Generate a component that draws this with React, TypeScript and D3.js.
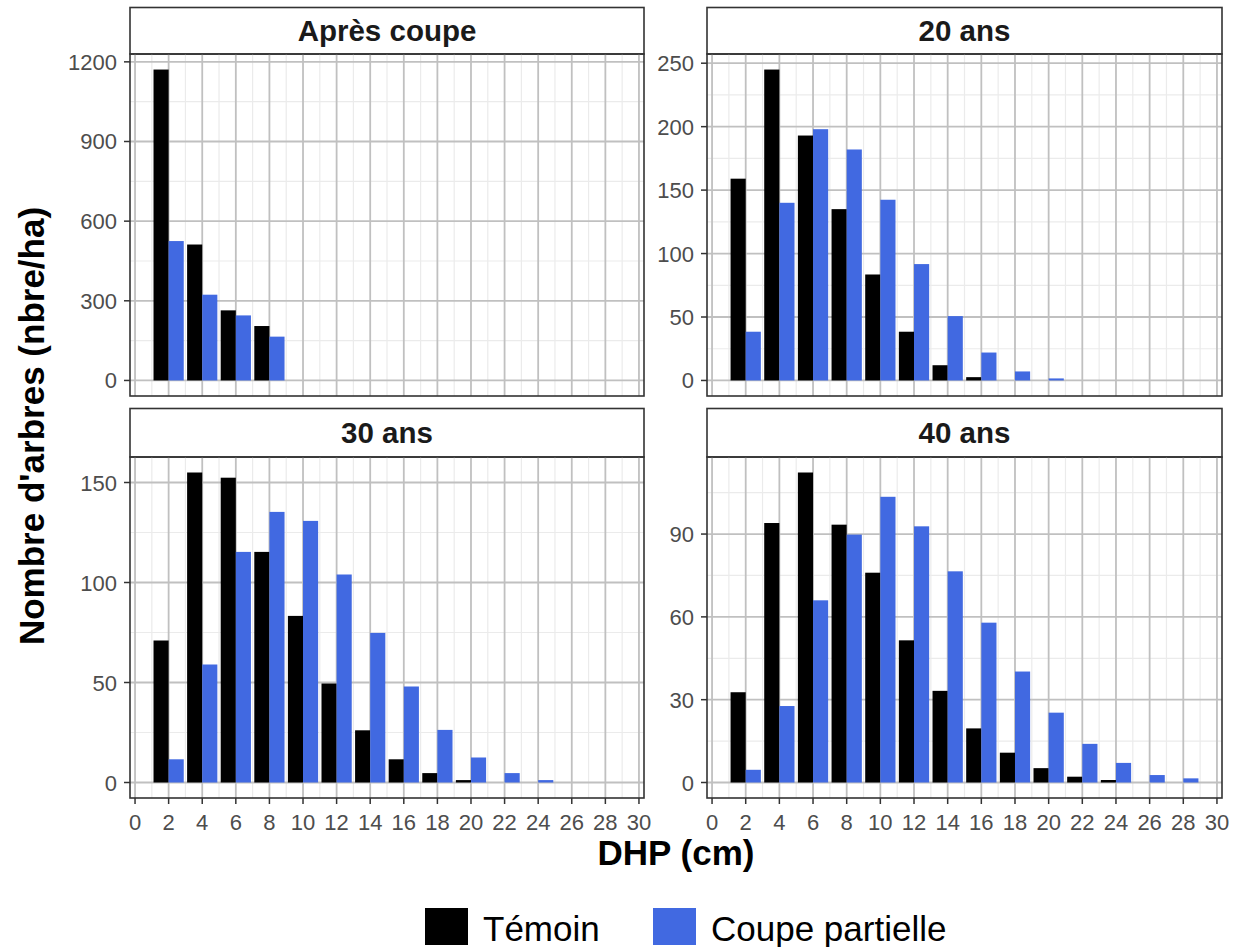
import React from "react";
import * as d3 from "d3";

const DHP = [2, 4, 6, 8, 10, 12, 14, 16, 18, 20, 22, 24, 26, 28];
const SERIES = ["Témoin", "Coupe partielle"];
const COLORS = ["#000000", "#4169E1"];
const PANEL_TITLES = ["Après coupe", "20 ans", "30 ans", "40 ans"];

const APRES_TEMOIN = [1171, 512, 264, 205, 0, 0, 0, 0, 0, 0, 0, 0, 0, 0];
const APRES_COUPE = [525, 323, 245, 165, 0, 0, 0, 0, 0, 0, 0, 0, 0, 0];
const AN20_TEMOIN = [159, 245, 193, 135, 83.5, 38.4, 12, 2.6, 0, 0, 0, 0, 0, 0];
const AN20_COUPE = [38.4, 140, 198, 182, 142.4, 91.7, 50.7, 22, 7.1, 1.6, 0, 0, 0, 0];
const AN30_TEMOIN = [71, 155, 152.4, 115.3, 83.3, 49.5, 26.1, 11.6, 4.7, 1.2, 0, 0, 0, 0];
const AN30_COUPE = [11.6, 59, 115.3, 135.3, 130.8, 104, 74.8, 48, 26.3, 12.5, 4.7, 1.2, 0, 0];
const AN40_TEMOIN = [32.7, 94, 112.3, 93.4, 76, 51.5, 33.2, 19.6, 10.8, 5.2, 2.1, 0.9, 0, 0];
const AN40_COUPE = [4.6, 27.7, 66, 89.8, 103.5, 92.8, 76.5, 57.9, 40.2, 25.3, 14, 7.1, 2.7, 1.5];

const Y_TICKS_APRES = [0, 300, 600, 900, 1200];
const Y_TICKS_20 = [0, 50, 100, 150, 200, 250];
const Y_TICKS_30 = [0, 50, 100, 150];
const Y_TICKS_40 = [0, 30, 60, 90];
const X_TICKS = [0, 2, 4, 6, 8, 10, 12, 14, 16, 18, 20, 22, 24, 26, 28, 30];
const X_MINOR = [1, 3, 5, 7, 9, 11, 13, 15, 17, 19, 21, 23, 25, 27, 29];

const PANELS = [
  { title: PANEL_TITLES[0], t: APRES_TEMOIN, c: APRES_COUPE, ticks: Y_TICKS_APRES },
  { title: PANEL_TITLES[1], t: AN20_TEMOIN, c: AN20_COUPE, ticks: Y_TICKS_20 },
  { title: PANEL_TITLES[2], t: AN30_TEMOIN, c: AN30_COUPE, ticks: Y_TICKS_30 },
  { title: PANEL_TITLES[3], t: AN40_TEMOIN, c: AN40_COUPE, ticks: Y_TICKS_40 },
];

const W = 1233;
const H = 947;
const COLS = [
  { x0: 130, x1: 644 },
  { x0: 707, x1: 1222 },
];
const ROWS = [
  { s0: 7.5, p0: 54, p1: 396 },
  { s0: 408.5, p0: 457, p1: 798 },
];
const FONT = "'Liberation Sans', Arial, sans-serif";

function Panel({ idx }: { idx: number }) {
  const p = PANELS[idx];
  const col = COLS[idx % 2];
  const row = ROWS[Math.floor(idx / 2)];
  const bottom = idx >= 2;
  const x = d3.scaleLinear().domain([-0.3, 30.3]).range([col.x0, col.x1]);
  const maxV = d3.max([...p.t, ...p.c]) as number;
  const y = d3
    .scaleLinear()
    .domain([-0.05 * maxV, maxV * 1.05])
    .range([row.p1, row.p0]);
  const [lo, hi] = y.domain();
  const step = p.ticks[1] - p.ticks[0];
  const yMinor = [p.ticks[0] - step / 2, ...p.ticks.map((v) => v + step / 2)].filter(
    (v) => v > lo && v < hi
  );
  const bw = 0.9;
  return (
    <g>
      <rect
        x={col.x0}
        y={row.s0}
        width={col.x1 - col.x0}
        height={row.p0 - row.s0}
        fill="#ffffff"
        stroke="#333333"
        strokeWidth={1.6}
      />
      <text
        x={(col.x0 + col.x1) / 2}
        y={(row.s0 + row.p0) / 2 + 10}
        textAnchor="middle"
        fontFamily={FONT}
        fontWeight="bold"
        fontSize={29.5}
        fill="#1a1a1a"
      >
        {p.title}
      </text>
      {X_MINOR.map((v) => (
        <line key={"xm" + v} x1={x(v)} x2={x(v)} y1={row.p0} y2={row.p1} stroke="#ebebeb" strokeWidth={1.2} />
      ))}
      {yMinor.map((v) => (
        <line key={"ym" + v} x1={col.x0} x2={col.x1} y1={y(v)} y2={y(v)} stroke="#ebebeb" strokeWidth={1.2} />
      ))}
      {X_TICKS.map((v) => (
        <line key={"xg" + v} x1={x(v)} x2={x(v)} y1={row.p0} y2={row.p1} stroke="#c0c0c0" strokeWidth={1.8} />
      ))}
      {p.ticks.map((v) => (
        <line key={"yg" + v} x1={col.x0} x2={col.x1} y1={y(v)} y2={y(v)} stroke="#c0c0c0" strokeWidth={1.8} />
      ))}
      {DHP.map((d, i) => (
        <g key={"b" + d}>
          <rect
            x={x(d - bw)}
            width={x(d) - x(d - bw)}
            y={y(Math.max(p.t[i], 0))}
            height={y(0) - y(p.t[i])}
            fill={COLORS[0]}
          />
          <rect
            x={x(d)}
            width={x(d + bw) - x(d)}
            y={y(Math.max(p.c[i], 0))}
            height={y(0) - y(p.c[i])}
            fill={COLORS[1]}
          />
        </g>
      ))}
      <rect
        x={col.x0}
        y={row.p0}
        width={col.x1 - col.x0}
        height={row.p1 - row.p0}
        fill="none"
        stroke="#333333"
        strokeWidth={1.6}
      />
      {p.ticks.map((v) => (
        <g key={"yt" + v}>
          <line x1={col.x0 - 6} x2={col.x0} y1={y(v)} y2={y(v)} stroke="#333333" strokeWidth={1.5} />
          <text
            x={col.x0 - 13}
            y={y(v) + 8}
            textAnchor="end"
            fontFamily={FONT}
            fontSize={22}
            fill="#4d4d4d"
          >
            {v}
          </text>
        </g>
      ))}
      {bottom &&
        X_TICKS.map((v) => (
          <g key={"xt" + v}>
            <line x1={x(v)} x2={x(v)} y1={row.p1} y2={row.p1 + 6} stroke="#333333" strokeWidth={1.5} />
            <text
              x={x(v)}
              y={row.p1 + 32}
              textAnchor="middle"
              fontFamily={FONT}
              fontSize={22}
              fill="#4d4d4d"
            >
              {v}
            </text>
          </g>
        ))}
    </g>
  );
}

export default function App() {
  const legendX = [425, 653];
  return (
    <svg
      width={W}
      height={H}
      viewBox={`0 0 ${W} ${H}`}
      style={{ position: "absolute", left: 0, top: 0, background: "#ffffff" }}
    >
      <rect x={0} y={0} width={W} height={H} fill="#ffffff" />
      {PANELS.map((_, i) => (
        <Panel key={i} idx={i} />
      ))}
      <text
        x={676}
        y={865}
        textAnchor="middle"
        fontFamily={FONT}
        fontWeight="bold"
        fontSize={35}
        fill="#000000"
      >
        DHP (cm)
      </text>
      <text
        transform={`translate(44, 426) rotate(-90)`}
        textAnchor="middle"
        fontFamily={FONT}
        fontWeight="bold"
        fontSize={35}
        fill="#000000"
      >
        Nombre d'arbres (nbre/ha)
      </text>
      {SERIES.map((s, i) => (
        <g key={s}>
          <rect x={legendX[i]} y={908} width={43} height={37} fill={COLORS[i]} />
          <text x={legendX[i] + 58} y={941} fontFamily={FONT} fontSize={35} fill="#000000">
            {s}
          </text>
        </g>
      ))}
    </svg>
  );
}
